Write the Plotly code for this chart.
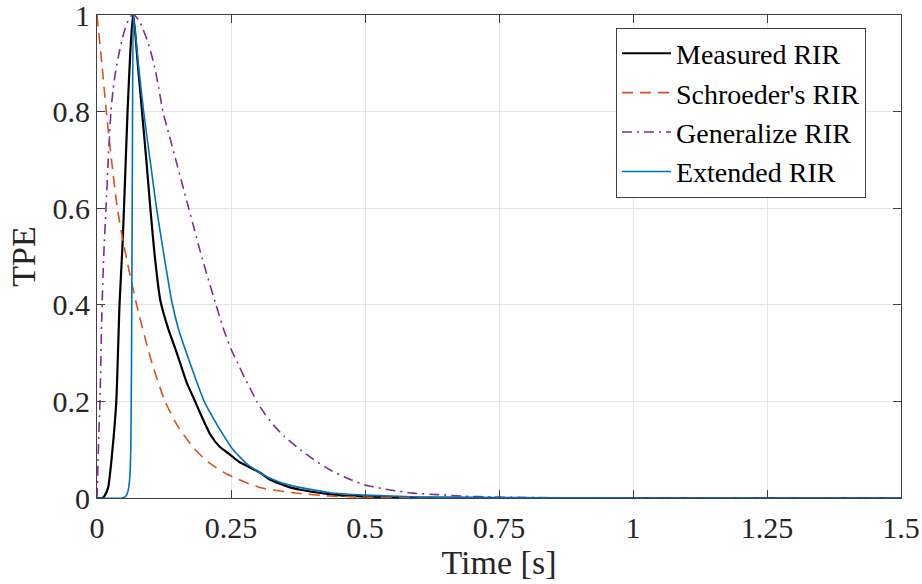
import plotly.graph_objects as go

# ---- data ----
measured_t = [0, 0.010, 0.015, 0.021, 0.028, 0.036, 0.042, 0.048, 0.053, 0.057, 0.062, 0.066, 0.068,
              0.076, 0.084, 0.092, 0.0995, 0.107, 0.118, 0.133, 0.149, 0.167, 0.183, 0.192, 0.211,
              0.229, 0.248, 0.265, 0.280, 0.295, 0.305, 0.320, 0.340, 0.360, 0.380, 0.400, 0.450,
              0.500, 0.600, 0.750, 1.0, 1.25, 1.5]
measured_v = [0, 0.0, 0.006, 0.023, 0.09, 0.2, 0.4, 0.533, 0.68, 0.8, 0.92, 0.985, 1.0,
              0.9, 0.8, 0.7, 0.6, 0.509, 0.41, 0.35, 0.3, 0.24, 0.2, 0.177, 0.132,
              0.106, 0.09, 0.075, 0.066, 0.058, 0.052, 0.04, 0.03, 0.022, 0.017, 0.013, 0.006,
              0.003, 0.001, 0.0, 0.0, 0.0, 0.0]

schroeder_t = [0, 0.009, 0.0174, 0.027, 0.038, 0.049, 0.060, 0.074, 0.090, 0.105, 0.127, 0.150,
               0.180, 0.210, 0.245, 0.280, 0.310, 0.373, 0.435, 0.500, 0.600, 0.750, 1.0, 1.5]
schroeder_v = [1.0, 0.9, 0.8, 0.7, 0.6, 0.53, 0.47, 0.4, 0.33, 0.27, 0.2, 0.15,
               0.104, 0.072, 0.048, 0.031, 0.02, 0.01, 0.004, 0.002, 0.0005, 0.0, 0.0, 0.0]

general_t = [0, 0.002, 0.004, 0.006, 0.009, 0.0125, 0.0168, 0.021, 0.026, 0.030, 0.035, 0.041,
             0.047, 0.052, 0.058, 0.063, 0.068, 0.074, 0.080, 0.086, 0.093, 0.100, 0.108, 0.115,
             0.123, 0.135, 0.147, 0.159, 0.171, 0.182, 0.193, 0.207, 0.222, 0.236, 0.251, 0.263,
             0.275, 0.287, 0.298, 0.314, 0.330, 0.350, 0.3725, 0.400, 0.435, 0.465, 0.500, 0.545,
             0.590, 0.635, 0.683, 0.740, 0.800, 0.900, 1.0, 1.5]
general_v = [0, 0.08, 0.15, 0.22, 0.38, 0.5, 0.6, 0.7, 0.8, 0.845, 0.885, 0.92,
             0.95, 0.97, 0.988, 0.997, 1.0, 0.995, 0.985, 0.97, 0.95, 0.925, 0.89, 0.85,
             0.8, 0.75, 0.7, 0.65, 0.6, 0.555, 0.509, 0.455, 0.4, 0.35, 0.306, 0.278,
             0.25, 0.224, 0.2, 0.173, 0.15, 0.127, 0.106, 0.083, 0.058, 0.042, 0.027, 0.017,
             0.01, 0.007, 0.004, 0.002, 0.001, 0.0, 0.0, 0.0]

extended_t = [0, 0.048, 0.054, 0.058, 0.061, 0.063, 0.0645, 0.066, 0.068, 0.077, 0.087, 0.099,
              0.111, 0.124, 0.139, 0.152, 0.167, 0.183, 0.200, 0.225, 0.254, 0.280, 0.310, 0.340,
              0.373, 0.435, 0.500, 0.600, 0.750, 1.0, 1.5]
extended_v = [0, 0.0, 0.004, 0.015, 0.04, 0.1, 0.3, 0.7, 1.0, 0.9, 0.8, 0.7,
              0.6, 0.509, 0.41, 0.35, 0.3, 0.25, 0.2, 0.15, 0.1, 0.07, 0.048, 0.033,
              0.023, 0.011, 0.006, 0.002, 0.001, 0.0, 0.0]

names = ["Measured RIR", "Schroeder's RIR", "Generalize RIR", "Extended RIR"]
x_ticks = [0, 0.25, 0.5, 0.75, 1, 1.25, 1.5]
x_ticklabels = ["0", "0.25", "0.5", "0.75", "1", "1.25", "1.5"]
y_ticks = [0, 0.2, 0.4, 0.6, 0.8, 1]
y_ticklabels = ["0", "0.2", "0.4", "0.6", "0.8", "1"]

FONT = "Liberation Serif, Times New Roman, serif"
TXT = "#262626"

fig = go.Figure()
fig.add_trace(go.Scatter(x=measured_t, y=measured_v, mode="lines", name=names[0],
                         line=dict(color="#000000", width=2.2, shape="spline", smoothing=0.5)))
fig.add_trace(go.Scatter(x=schroeder_t, y=schroeder_v, mode="lines", name=names[1],
                         line=dict(color="#D95319", width=1.6, dash="11px,7px", shape="spline", smoothing=0.6)))
fig.add_trace(go.Scatter(x=general_t, y=general_v, mode="lines", name=names[2],
                         line=dict(color="#7E2F8E", width=1.6, dash="10px,5px,2px,5px", shape="spline", smoothing=0.6)))
fig.add_trace(go.Scatter(x=extended_t, y=extended_v, mode="lines", name=names[3],
                         line=dict(color="#0072BD", width=1.6, shape="spline", smoothing=0.4)))

axis_common = dict(
    showline=True, linecolor="#404040", linewidth=1, mirror="ticks",
    ticks="inside", ticklen=8, tickcolor="#404040", tickwidth=1,
    showgrid=True, gridcolor="#e5e5e5", gridwidth=1, zeroline=False,
    tickfont=dict(family=FONT, size=30, color=TXT),
    ticklabeloverflow="allow", automargin=False,
)

fig.update_layout(
    width=922, height=584,
    margin=dict(l=97, r=21, t=15, b=86, autoexpand=False),
    paper_bgcolor="white", plot_bgcolor="white",
    font=dict(family=FONT, color=TXT),
    xaxis=dict(range=[0, 1.5], tickvals=x_ticks, ticktext=x_ticklabels,
               ticklabelstandoff=3,
               title=dict(text="Time [s]", font=dict(family=FONT, size=34, color=TXT), standoff=0),
               **axis_common),
    yaxis=dict(range=[0, 1], tickvals=y_ticks, ticktext=y_ticklabels,
               title=dict(text="TPE", font=dict(family=FONT, size=34, color=TXT), standoff=6),
               **axis_common),
    legend=dict(x=0.6455, y=0.974, xanchor="left", yanchor="top",
                bgcolor="white", bordercolor="#404040", borderwidth=1,
                font=dict(family=FONT, size=28, color="#000000"),
                itemwidth=49, tracegroupgap=0),
    showlegend=True,
)

fig.write_html("out.html")
